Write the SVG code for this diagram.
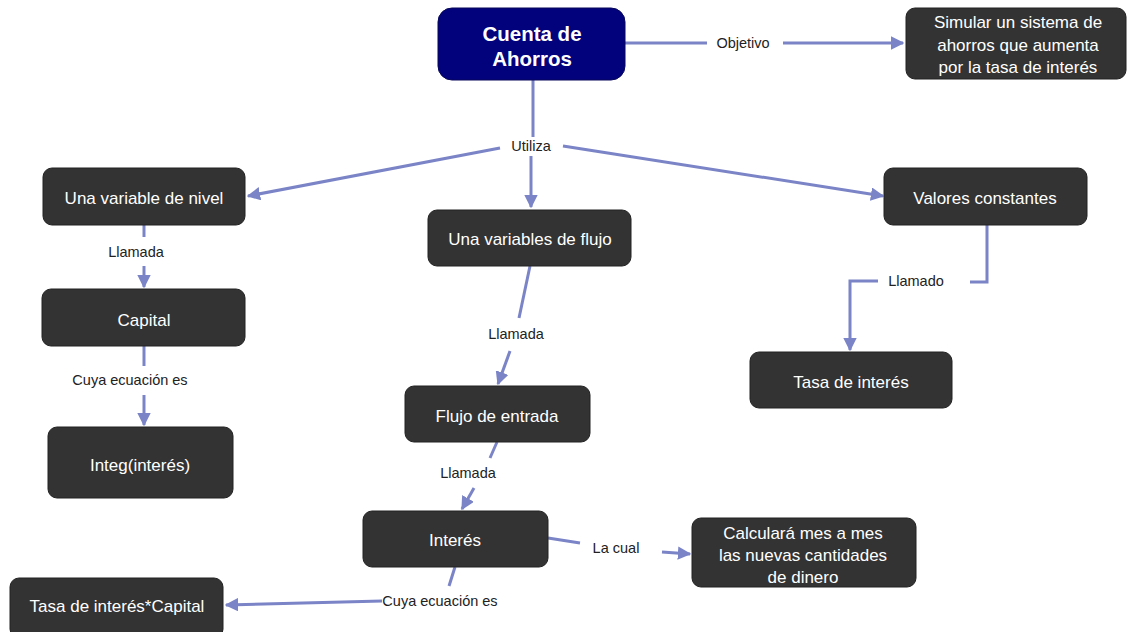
<svg xmlns="http://www.w3.org/2000/svg" width="1127" height="632" viewBox="0 0 1127 632">
<defs>
<marker id="ah" viewBox="0 0 10 10" refX="9" refY="5" markerWidth="4.5" markerHeight="4.5" orient="auto" markerUnits="strokeWidth">
<path d="M0,0 L10,5 L0,10 z" fill="#7a84c6"/>
</marker>
<style>
.box{fill:#333333;stroke:#222;stroke-width:1}
.main{fill:#02027c;stroke:#06065a;stroke-width:1}
.t{font-family:"Liberation Sans",Arial,sans-serif;font-size:17px;fill:#ffffff;text-anchor:middle;dominant-baseline:central}
.tb{font-family:"Liberation Sans",Arial,sans-serif;font-size:20.5px;font-weight:bold;fill:#ffffff;text-anchor:middle;dominant-baseline:central}
.l{font-family:"Liberation Sans",Arial,sans-serif;font-size:14.5px;fill:#222;text-anchor:middle;dominant-baseline:central}
.c{fill:none;stroke:#7a84c6;stroke-width:3}
.a{fill:none;stroke:#7a84c6;stroke-width:3;marker-end:url(#ah)}
</style>
</defs>
<rect width="1127" height="632" fill="#ffffff"/>
<g id="connectors">
<path class="c" d="M625,43 L707,43"/>
<path class="a" d="M783,43 L903,43"/>
<path class="c" d="M533,80 L533,137"/>
<path class="a" d="M500,148 L248,196"/>
<path class="a" d="M531,156 L531,207"/>
<path class="a" d="M563,146 L883,196"/>
<path class="c" d="M144,225 L144,237"/>
<path class="a" d="M144,266 L144,287"/>
<path class="c" d="M144,346 L144,366"/>
<path class="a" d="M144,395 L144,425"/>
<path class="c" d="M530,266 L519,318"/>
<path class="a" d="M510,351 L498,384"/>
<path class="c" d="M987,225 L987,282 L970,282"/>
<path class="a" d="M878,281 L850,281 L850,350"/>
<path class="c" d="M497,442 L490,458"/>
<path class="a" d="M474,488 L462,509"/>
<path class="c" d="M548,538 L580,543"/>
<path class="a" d="M662,552 L690,554"/>
<path class="c" d="M455,567 L449,586"/>
<path class="a" d="M382,601 L226,605"/>
</g>
<g id="labels">
<text class="l" x="743" y="43">Objetivo</text>
<text class="l" x="531" y="146">Utiliza</text>
<text class="l" x="136" y="252">Llamada</text>
<text class="l" x="130" y="380">Cuya ecuación es</text>
<text class="l" x="516" y="334">Llamada</text>
<text class="l" x="916" y="281">Llamado</text>
<text class="l" x="468" y="473">Llamada</text>
<text class="l" x="616" y="548">La cual</text>
<text class="l" x="440" y="601">Cuya ecuación es</text>
</g>
<g id="cuenta">
<rect class="main" x="438" y="8" width="187" height="72" rx="14"/>
<text class="tb" x="532" y="33">Cuenta de</text>
<text class="tb" x="532" y="58">Ahorros</text>
</g>
<g id="simular">
<rect class="box" x="906" y="8" width="220" height="71" rx="9"/>
<text class="t" x="1018" y="22">Simular un sistema de</text>
<text class="t" x="1018" y="45">ahorros que aumenta</text>
<text class="t" x="1018" y="67">por la tasa de interés</text>
</g>
<g id="nivel">
<rect class="box" x="43" y="168" width="202" height="57" rx="9"/>
<text class="t" x="144" y="198">Una variable de nivel</text>
</g>
<g id="flujo">
<rect class="box" x="428" y="210" width="203" height="56" rx="9"/>
<text class="t" x="530" y="239">Una variables de flujo</text>
</g>
<g id="valores">
<rect class="box" x="884" y="168" width="203" height="57" rx="9"/>
<text class="t" x="985" y="198">Valores constantes</text>
</g>
<g id="capital">
<rect class="box" x="42" y="289" width="203" height="57" rx="9"/>
<text class="t" x="144" y="320">Capital</text>
</g>
<g id="tasa">
<rect class="box" x="750" y="352" width="202" height="56" rx="9"/>
<text class="t" x="851" y="382">Tasa de interés</text>
</g>
<g id="entrada">
<rect class="box" x="405" y="386" width="185" height="56" rx="9"/>
<text class="t" x="497" y="416">Flujo de entrada</text>
</g>
<g id="integ">
<rect class="box" x="48" y="427" width="185" height="71" rx="9"/>
<text class="t" x="140" y="465">Integ(interés)</text>
</g>
<g id="interes">
<rect class="box" x="363" y="511" width="185" height="56" rx="9"/>
<text class="t" x="455" y="540">Interés</text>
</g>
<g id="calculara">
<rect class="box" x="692" y="518" width="224" height="69" rx="9"/>
<text class="t" x="803" y="533">Calculará mes a mes</text>
<text class="t" x="803" y="555">las nuevas cantidades</text>
<text class="t" x="803" y="577">de dinero</text>
</g>
<g id="tasacapital">
<rect class="box" x="10" y="578" width="213" height="60" rx="9"/>
<text class="t" x="117" y="606">Tasa de interés*Capital</text>
</g>
</svg>
